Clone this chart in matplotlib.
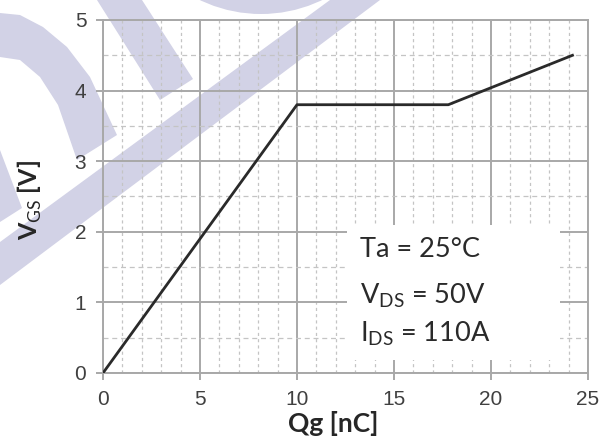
import matplotlib
matplotlib.use("agg")
import matplotlib.pyplot as plt
from matplotlib.patches import Polygon, Ellipse, Rectangle
from matplotlib.ticker import MultipleLocator

# gate charge curve
qg = [0, 10, 17.8, 24.2]
vgs = [0, 3.8, 3.8, 4.5]
x_ticks = [0, 5, 10, 15, 20, 25]
y_ticks = [0, 1, 2, 3, 4, 5]
notes = ["Ta = 25°C", "V$_{\\mathrm{DS}}$ = 50V", "I$_{\\mathrm{DS}}$ = 110A"]

plt.rcParams['mathtext.fontset'] = 'custom'
plt.rcParams['mathtext.rm'] = 'Lato'
plt.rcParams['mathtext.bf'] = 'Lato:bold'

W, H = 610, 443
fig = plt.figure(figsize=(6.1, 4.43), dpi=100)
ax = fig.add_axes([103 / W, 1 - 373 / H, 485 / W, 353 / H])
ax.patch.set_alpha(0)


def px(pts):
    return [(x / W, 1 - y / H) for x, y in pts]


# watermark behind the axes
wm = '#d2d2e6'
shapes = [
    [(97, 0), (142, 0), (193, 79), (160, 100)],
    [(330, 0), (380, 0), (0, 285), (0, 242)],
    [(0, 13), (20, 15), (43, 27), (67, 47), (90, 77), (117, 135),
     (77, 160), (58, 105), (40, 77), (20, 60), (0, 57)],
    [(0, 150), (22, 208), (0, 222)],
]
for s in shapes:
    fig.patches.append(Polygon(px(s), closed=True, transform=fig.transFigure,
                               facecolor=wm, edgecolor='none', zorder=-5))
# bottom of a ring cut off by the top edge
fig.patches.append(Ellipse((261 / W, 1 + 125 / H), 280 / W, 278 / H,
                           transform=fig.transFigure, facecolor=wm,
                           edgecolor='none', zorder=-5))

ax.set_xlim(0, 25)
ax.set_ylim(0, 5)
ax.set_xticks(x_ticks)
ax.set_yticks(y_ticks)
ax.xaxis.set_minor_locator(MultipleLocator(1))
ax.yaxis.set_minor_locator(MultipleLocator(0.5))

ax.grid(which='major', color='#a8a8a8', lw=1.4, ls='-')
ax.grid(which='minor', axis='x', color='#c4c4c4', lw=0.9, ls=(0, (2.5, 2.5)))
ax.grid(which='minor', axis='y', color='#c4c4c4', lw=0.9, ls=(0, (4, 3)))
ax.set_axisbelow(True)
for sp in ax.spines.values():
    sp.set_color('#a8a8a8')
    sp.set_linewidth(1.4)

ax.tick_params(which='major', direction='out', length=5, width=1.4, color='#a8a8a8',
               labelcolor='#404040', labelsize=15, pad=7)
ax.tick_params(which='minor', length=0)
for lab in ax.get_xticklabels() + ax.get_yticklabels():
    lab.set_fontfamily('Liberation Sans')

ax.plot(qg, vgs, color='#2a2a2a', lw=2, zorder=5)

ax.add_patch(Rectangle((12.6, 0.18), 10.95, 1.92, facecolor='white',
                       edgecolor='none', zorder=3))
for t, yy in zip(notes, [1.64, 0.99, 0.44]):
    ax.text(13.25, yy, t, fontsize=19.5, family='Lato', color='#2a2a2a',
            va='baseline', zorder=6)

ax.set_xlabel('Qg [nC]', fontsize=19, family='Lato', fontweight='bold',
              color='#262626')
ax.xaxis.set_label_coords(0.475, -0.107, transform=ax.transAxes)
ax.set_ylabel('V$_{\\mathrm{GS}}$ [V]', fontsize=18, family='Lato',
              fontweight='bold', color='#262626')
ax.yaxis.set_label_coords(-0.122, 0.49, transform=ax.transAxes)

fig.savefig('out.png', dpi=100)
